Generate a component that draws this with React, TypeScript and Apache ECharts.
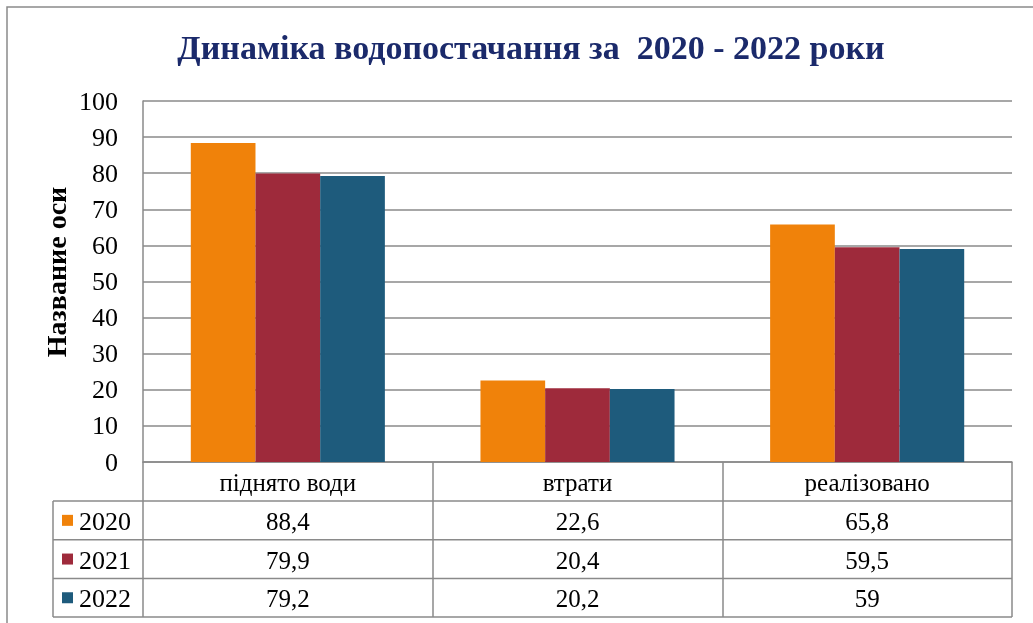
import React, { useEffect, useRef } from "react";
import * as echarts from "echarts";

const categories = ["піднято води", "втрати", "реалізовано"];
const years = ["2020", "2021", "2022"];
const values2020 = [88.4, 22.6, 65.8];
const values2021 = [79.9, 20.4, 59.5];
const values2022 = [79.2, 20.2, 59];
const colors = ["#F0820A", "#9E2A3B", "#1E5B7C"];
const yTicks = { min: 0, max: 100, interval: 10 };

const fmt = (v: number) => String(v).replace(".", ",");

export default function App() {
  const ref = useRef<HTMLDivElement>(null);
  useEffect(() => {
    if (!ref.current) return;
    const chart = echarts.init(ref.current, undefined, { renderer: "svg" });
    const gridL = 143, gridR = 1012, gridT = 101, gridB = 462;
    const colW = (gridR - gridL) / categories.length;
    const rowTop = 501, rowH = 38.7;
    const seriesValues = [values2020, values2021, values2022];
    const gray = "#8a8a8a";

    const graphic: any[] = [
      { type: "rect", shape: { x: 7, y: 7, width: 1100, height: 700 }, style: { fill: "none", stroke: gray, lineWidth: 1.5 }, silent: true },
      { type: "line", shape: { x1: 53, y1: rowTop, x2: 53, y2: rowTop + rowH * 3 }, style: { stroke: gray, lineWidth: 1.5 } },
      {
        type: "text", x: 56, y: 272, rotation: Math.PI / 2,
        style: { text: "Название оси", fontFamily: "Liberation Serif", fontSize: 28, fontWeight: "bold", fill: "#000", align: "center", verticalAlign: "middle" },
      },
    ];
    for (let r = 0; r <= 3; r++) {
      graphic.push({ type: "line", shape: { x1: 53, y1: rowTop + r * rowH, x2: gridR, y2: rowTop + r * rowH }, style: { stroke: gray, lineWidth: 1.5 } });
    }
    years.forEach((y, r) => {
      const cy = rowTop + (r + 0.5) * rowH;
      graphic.push({ type: "rect", shape: { x: 62, y: cy - 5.5, width: 11, height: 11 }, style: { fill: colors[r] } });
      graphic.push({ type: "text", x: 79, y: cy + 1, style: { text: y, fontFamily: "Liberation Serif", fontSize: 26, fill: "#000", align: "left", verticalAlign: "middle" } });
    });
    seriesValues.forEach((vals, r) => {
      vals.forEach((v, c) => {
        graphic.push({
          type: "text", x: gridL + (c + 0.5) * colW, y: rowTop + (r + 0.5) * rowH + 1,
          style: { text: fmt(v), fontFamily: "Liberation Serif", fontSize: 25, fill: "#000", align: "center", verticalAlign: "middle" },
        });
      });
    });

    chart.setOption({
      animation: false,
      title: {
        text: "Динаміка водопостачання за  2020 - 2022 роки",
        left: 526, top: 25, textAlign: "center",
        textStyle: { fontFamily: "Liberation Serif", fontSize: 34, fontWeight: "bold", color: "#1B2A6B" },
      },
      grid: { left: gridL, right: 1033 - gridR, top: gridT, bottom: 623 - gridB },
      xAxis: {
        type: "category", data: categories,
        axisLine: { lineStyle: { color: gray, width: 1.5 } },
        axisTick: { show: true, length: rowTop + rowH * 3 - gridB, alignWithLabel: false, lineStyle: { color: gray, width: 1.5 } },
        axisLabel: { margin: 8, fontFamily: "Liberation Serif", fontSize: 25, color: "#000", interval: 0 },
      },
      yAxis: {
        type: "value", min: yTicks.min, max: yTicks.max, interval: yTicks.interval,
        axisLine: { show: true, lineStyle: { color: gray, width: 1.5 } },
        axisTick: { show: false },
        axisLabel: { margin: 25, fontFamily: "Liberation Serif", fontSize: 26, color: "#000" },
        splitLine: { lineStyle: { color: gray, width: 1.5 } },
      },
      graphic,
      series: years.map((y, i) => ({
        name: y, type: "bar", data: seriesValues[i],
        itemStyle: { color: colors[i] },
        barGap: "0%", barCategoryGap: "33%",
      })),
    });
    return () => chart.dispose();
  }, []);
  return <div ref={ref} style={{ position: "fixed", left: 0, top: 0, width: 1033, height: 623 }} />;
}
